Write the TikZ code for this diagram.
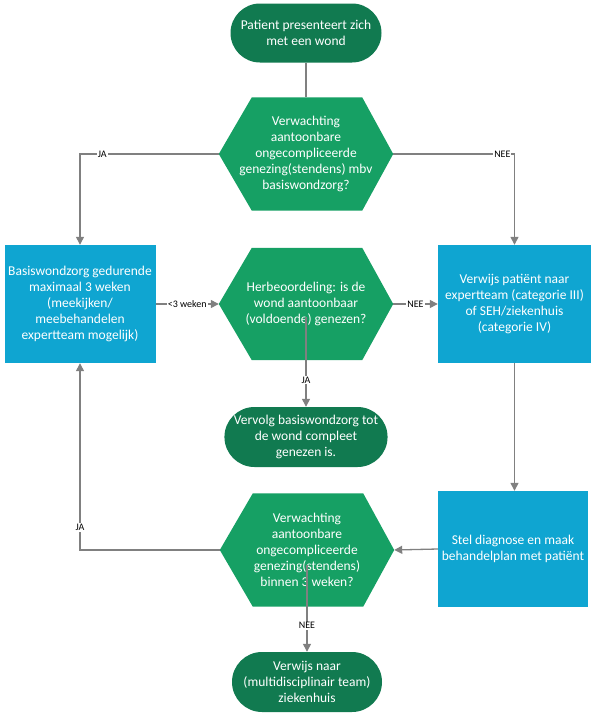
\documentclass[tikz,border=0pt]{standalone}
\usepackage{fontspec}
\setmainfont{Carlito}
\usetikzlibrary{arrows.meta,calc,shapes.misc,backgrounds}
\definecolor{termgreen}{HTML}{117A50}
\definecolor{hexgreen}{HTML}{16A064}
\definecolor{boxblue}{HTML}{0FA5D1}
\definecolor{conncol}{HTML}{808080}
\tikzset{
  txt/.style={font=\fontsize{13.5}{16}\selectfont, text=white, align=center, inner sep=0pt},
  terminal/.style={txt, fill=termgreen, rounded rectangle, minimum width=151, minimum height=59},
  procbox/.style={txt, fill=boxblue, minimum width=151, minimum height=118},
  hexnode/.style={txt, minimum width=174, minimum height=113},
  conn/.style={draw=conncol, line width=1.3},
  arr/.style={conn, -{Triangle[length=8,width=8]}},
  lbl/.style={font=\fontsize{10}{12}\selectfont, fill=white, inner sep=1, text=black},
}
\newcommand\hexfill[1]{%
  \begin{scope}[on background layer]
  \fill[hexgreen] (#1.west) -- ($(#1.north west)+(33,0)$) -- ($(#1.north east)+(-31,0)$)
    -- (#1.east) -- ($(#1.south east)+(-31,0)$) -- ($(#1.south west)+(33,0)$) -- cycle;
  \end{scope}}
\begin{document}
\begin{tikzpicture}[x=1pt,y=-1pt]
\useasboundingbox (0,0) rectangle (594,720);
% nodes
\node[terminal] (t1) at (306,33) {Patient presenteert zich\\met een wond};
\node[hexnode] (h1) at (306,154) {Verwachting\\aantoonbare\\ongecompliceerde\\genezing(stendens) mbv\\basiswondzorg?};
\hexfill{h1}
\node[procbox] (b1) at (80,304) {Basiswondzorg gedurende\\maximaal 3 weken\\(meekijken/\\meebehandelen\\expertteam mogelijk)};
\node[procbox, minimum width=153] (b2) at (514.5,304) {Verwijs patiënt naar\\expertteam (categorie III)\\of SEH/ziekenhuis\\(categorie IV)};
\node[hexnode, minimum height=112] (h2) at (306,304) {Herbeoordeling: is de\\wond aantoonbaar\\(voldoende) genezen?};
\hexfill{h2}
\node[terminal, minimum width=152, minimum height=60] (t2) at (306,437) {Vervolg basiswondzorg tot\\de wond compleet\\genezen is.};
\node[procbox, minimum width=150, minimum height=116] (b4) at (513,549) {Stel diagnose en maak\\behandelplan met patiënt};
\node[hexnode] (h3) at (307,550) {Verwachting\\aantoonbare\\ongecompliceerde\\genezing(stendens)\\binnen 3 weken?};
\hexfill{h3}
\node[terminal, minimum width=150, minimum height=60] (t3) at (307,682) {Verwijs naar\\(multidisciplinair team)\\ziekenhuis};
\coordinate (h2s) at (306,317);
\coordinate (h3s) at (307,565);
% connectors
\draw[conn] (t1.south) -- (t1.south |- h1.north);
\draw[arr] (h1.west) -| node[lbl, pos=0.42] {JA} (b1.north);
\draw[arr] (h1.east) -| node[lbl, pos=0.45] {NEE} (b2.north);
\draw[arr] (b1.east) -- node[lbl] {<3 weken} (h2.west);
\draw[arr] (h2.east) -- node[lbl] {NEE} (b2.west);
\draw[arr] (h2s) -- node[lbl, pos=0.7] {JA} (h2s |- t2.north);
\draw[arr] (b2.south) -- (b2.south |- b4.north);
\draw[arr] (b4.west) -- (h3.east);
\draw[arr] (h3.west) -| node[lbl, pos=0.56] {JA} (b1.south);
\draw[arr] (h3s) -- node[lbl, pos=0.7] {NEE} (h3s |- t3.north);
\end{tikzpicture}
\end{document}
